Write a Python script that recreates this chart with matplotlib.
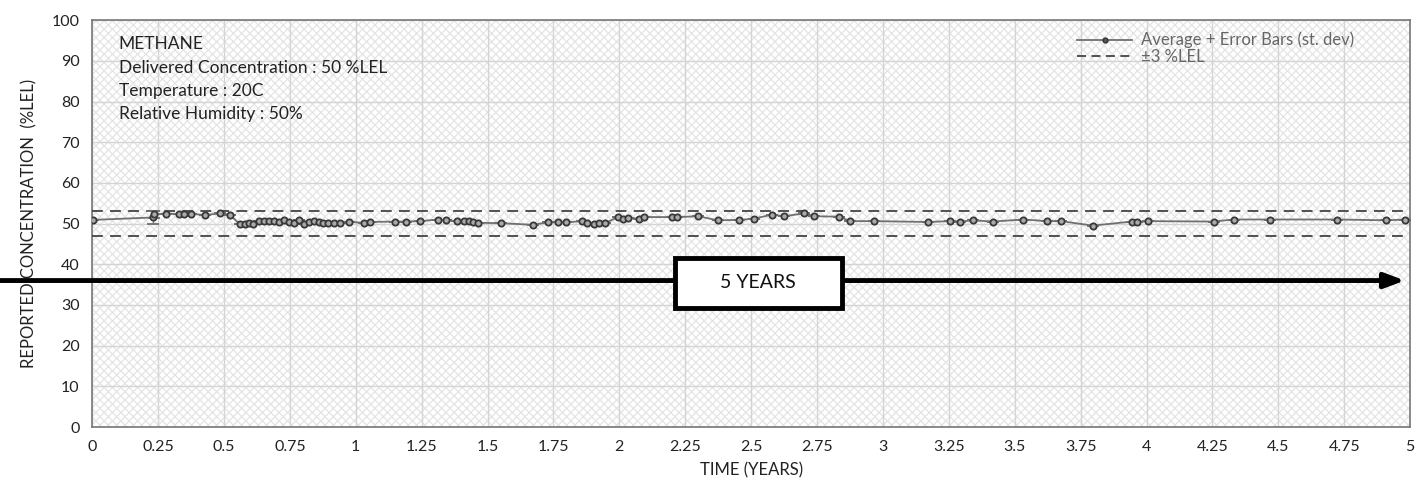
import matplotlib.pyplot as plt
from matplotlib.patches import Rectangle
from matplotlib.lines import Line2D

plt.rcParams['font.family'] = ['Lato', 'DejaVu Sans']
plt.rcParams['hatch.color'] = '#e4e4e4'
plt.rcParams['hatch.linewidth'] = 0.9

# time in years and average reported concentration (%LEL)
years = [0.003, 0.23, 0.235, 0.28, 0.328, 0.349, 0.376, 0.429, 0.486, 0.521,
         0.561, 0.578, 0.596, 0.612, 0.634, 0.653, 0.672, 0.689, 0.707, 0.728,
         0.746, 0.766, 0.784, 0.802, 0.821, 0.840, 0.859, 0.877, 0.896, 0.916,
         0.941, 0.976, 1.032, 1.055, 1.149, 1.191, 1.244, 1.311, 1.342, 1.383,
         1.409, 1.428, 1.443, 1.462, 1.552, 1.672, 1.728, 1.769, 1.798, 1.858,
         1.877, 1.902, 1.921, 1.946, 1.994, 2.013, 2.032, 2.076, 2.094, 2.201,
         2.220, 2.300, 2.373, 2.454, 2.511, 2.578, 2.623, 2.702, 2.739, 2.833,
         2.876, 2.967, 3.169, 3.255, 3.293, 3.341, 3.416, 3.533, 3.624, 3.675,
         3.796, 3.944, 3.963, 4.005, 4.254, 4.330, 4.469, 4.724, 4.909, 4.981]
conc = [50.9, 51.5, 52.3, 52.4, 52.4, 52.4, 52.4, 52.1, 52.5, 52.2,
        49.8, 49.8, 50.1, 49.8, 50.6, 50.6, 50.6, 50.6, 50.5, 50.8,
        50.5, 50.1, 50.8, 49.9, 50.5, 50.6, 50.5, 50.2, 50.2, 50.2,
        50.1, 50.4, 50.2, 50.4, 50.5, 50.5, 50.6, 51.0, 50.8, 50.6,
        50.6, 50.6, 50.5, 50.2, 50.1, 49.7, 50.3, 50.3, 50.3, 50.6,
        50.1, 49.8, 50.1, 50.1, 51.6, 51.2, 51.4, 51.2, 51.6, 51.6,
        51.6, 51.8, 50.8, 50.9, 51.2, 52.2, 51.8, 52.5, 51.8, 51.7,
        50.6, 50.6, 50.4, 50.6, 50.5, 50.8, 50.5, 51.0, 50.6, 50.6,
        49.5, 50.5, 50.4, 50.6, 50.5, 51.0, 51.0, 51.0, 50.8, 51.0]
err = [0.0, 1.6, 0.9] + [0.0] * 87

delivered = 50
tolerance = 3

fig = plt.figure(figsize=(14.18, 4.91), dpi=100)
ax = fig.add_axes([0.065, 0.1303, 0.9295, 0.8287])

ax.patch.set_facecolor('white')
ax.add_patch(Rectangle((0, 0), 1, 1, transform=ax.transAxes, facecolor='none',
                       edgecolor='#e4e4e4', hatch='xxxx', lw=0, zorder=0))

ax.errorbar(years, conc, yerr=err, color='#707070', ecolor='#707070', lw=1.3,
            marker='o', markersize=4.5, markerfacecolor='#aaaaaa',
            markeredgecolor='#383838', markeredgewidth=1.3, capsize=4,
            elinewidth=0.9, zorder=4)
ax.axhline(delivered + tolerance, color='#444444', ls=(0, (6, 4)), lw=1.3, zorder=3)
ax.axhline(delivered - tolerance, color='#444444', ls=(0, (6, 4)), lw=1.3, zorder=3)

# 5 year arrow with box
ax.annotate('', xy=(4.98, 36), xytext=(-0.35, 36), annotation_clip=False,
            arrowprops=dict(arrowstyle='-|>,head_length=1.2,head_width=0.45',
                            color='black', lw=3.5, shrinkA=0, shrinkB=0), zorder=5)
ax.add_patch(Rectangle((2.21, 29.3), 0.635, 12.3, facecolor='white',
                       edgecolor='black', lw=3.5, zorder=6))
ax.text(2.527, 35.4, '5 YEARS', ha='center', va='center', fontsize=14, zorder=7,
        color='#111111')

ax.text(0.1, 96, 'METHANE\nDelivered Concentration : 50 %LEL\nTemperature : 20C\nRelative Humidity : 50%',
        fontsize=12.5, va='top', ha='left', linespacing=1.55, color='#222222')

ax.set_xlim(0, 5)
ax.set_ylim(0, 100)
ax.set_xticks([i * 0.25 for i in range(21)])
ax.set_xticklabels(['0', '0.25', '0.5', '0.75', '1', '1.25', '1.5', '1.75', '2',
                    '2.25', '2.5', '2.75', '3', '3.25', '3.5', '3.75', '4',
                    '4.25', '4.5', '4.75', '5'])
ax.set_yticks(range(0, 101, 10))
ax.grid(True, color='#d4d4d4', lw=1)
ax.set_axisbelow(True)
ax.tick_params(axis='both', length=0, labelsize=11.5, colors='#222222', pad=9)
for s in ax.spines.values():
    s.set_color('#777777')
    s.set_linewidth(1.2)

ax.set_xlabel('TIME (YEARS)', fontsize=12, color='#222222', labelpad=6)
ax.set_ylabel('REPORTED CONCENTRATION  (%LEL)', fontsize=12, color='#222222', labelpad=10)

handles = [Line2D([], [], color='#707070', lw=1.3, marker='o', markersize=3.5,
                  markerfacecolor='#555555', markeredgecolor='#333333'),
           Line2D([], [], color='#444444', ls=(0, (5, 3)), lw=1.3)]
leg = ax.legend(handles, ['Average + Error Bars (st. dev)', '±3 %LEL'],
                loc='upper right', frameon=False, fontsize=12, handlelength=3.3,
                handletextpad=0.5, labelspacing=0.05, borderaxespad=0.3,
                bbox_to_anchor=(0.966, 1.0))
for t in leg.get_texts():
    t.set_color('#666666')

fig.savefig('out.png', dpi=100)
